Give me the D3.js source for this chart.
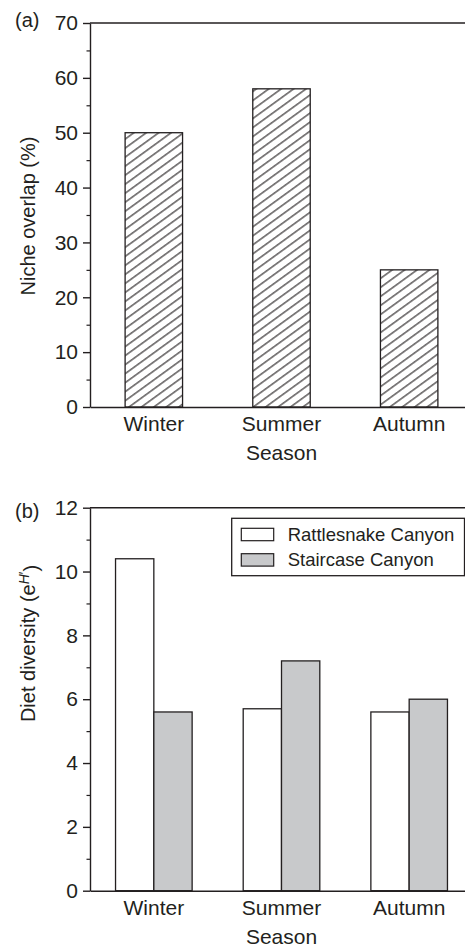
<!DOCTYPE html>
<html>
<head>
<meta charset="utf-8">
<script src="https://cdn.jsdelivr.net/npm/d3@7"></script>
<style>
  html, body { margin: 0; padding: 0; background: #fff; }
  svg { display: block; }
  text { font-family: "Liberation Sans", Arial, Helvetica, sans-serif; fill: #231f20; }
</style>
</head>
<body>
<svg id="chart" width="465" height="947"></svg>
<script>
// ---- Data ----
const seasons = ["Winter", "Summer", "Autumn"];
const nicheOverlap = [50, 58, 25];               // panel (a), %
const seriesNames = ["Rattlesnake Canyon", "Staircase Canyon"];
const rattlesnake = [10.4, 5.7, 5.6];             // panel (b)
const staircase = [5.6, 7.2, 6.0];                // panel (b)
const yTicksA = [0, 10, 20, 30, 40, 50, 60, 70];
const yMinorA = [5, 15, 25, 35, 45, 55, 65];
const yTicksB = [0, 2, 4, 6, 8, 10, 12];
const yMinorB = [1, 3, 5, 7, 9, 11];

// ---- Layout ----
const W = 465;
const axisX = 90;
const ink = "#231f20";
const svg = d3.select("#chart");

const defs = svg.append("defs");
const pat = defs.append("pattern")
  .attr("id", "hatch")
  .attr("patternUnits", "userSpaceOnUse")
  .attr("width", 12).attr("height", 7.3)
  .attr("patternTransform", "rotate(-36)");
pat.append("rect").attr("width", 12).attr("height", 7.3).attr("fill", "#fff");
pat.append("line").attr("x1", 0).attr("x2", 12).attr("y1", 3.6).attr("y2", 3.6)
  .attr("stroke", ink).attr("stroke-width", 1.1);

function drawFrame(g, y, ticks, minor, top, bottom, xScale) {
  // minor ticks
  g.append("g").attr("transform", `translate(${axisX},0)`)
    .call(d3.axisLeft(y).tickValues(minor).tickSize(3.5).tickFormat(""))
    .call(s => s.select(".domain").remove())
    .call(s => s.selectAll("line").attr("stroke", ink).attr("stroke-width", 1.2));
  // major ticks
  g.append("g").attr("transform", `translate(${axisX},0)`)
    .call(d3.axisLeft(y).tickValues(ticks).tickSize(7).tickPadding(5).tickSizeOuter(0))
    .call(s => s.select(".domain").attr("stroke", ink).attr("stroke-width", 1.4))
    .call(s => s.selectAll("line").attr("stroke", ink).attr("stroke-width", 1.4))
    .call(s => s.selectAll("text").style("font-size", "21px").attr("fill", ink));
  // top rule
  g.append("line").attr("x1", axisX).attr("x2", W)
    .attr("y1", top).attr("y2", top).attr("stroke", ink).attr("stroke-width", 1.4);
  // bottom axis
  g.append("g").attr("transform", `translate(0,${bottom})`)
    .call(d3.axisBottom(xScale).tickSize(0).tickPadding(9).tickSizeOuter(0))
    .call(s => s.select(".domain").attr("stroke", ink).attr("stroke-width", 1.4))
    .call(s => s.selectAll("text").style("font-size", "21px").attr("fill", ink));
}

// ---- Panel (a) ----
{
  const top = 23, bottom = 407;
  const g = svg.append("g");
  const x = d3.scaleBand().domain(seasons).range([axisX, 473])
    .paddingInner(0.55).paddingOuter(0.275);
  const y = d3.scaleLinear().domain([0, 70]).range([bottom, top]);

  g.selectAll("rect.bar").data(seasons.map((s, i) => ({ s, v: nicheOverlap[i] })))
    .join("rect").attr("class", "bar")
    .attr("x", d => x(d.s)).attr("width", x.bandwidth())
    .attr("y", d => y(d.v)).attr("height", d => y(0) - y(d.v))
    .attr("fill", "url(#hatch)").attr("stroke", ink).attr("stroke-width", 1.3);

  drawFrame(g, y, yTicksA, yMinorA, top, bottom, x);

  g.append("text").attr("x", 15).attr("y", 27).style("font-size", "20px").text("(a)");
  g.append("text").attr("x", (axisX + 473) / 2).attr("y", bottom + 46).attr("dy", "0.35em")
    .attr("text-anchor", "middle").style("font-size", "21px").text("Season");
  g.append("text").attr("transform", `translate(35,${(top + bottom) / 2 + 1}) rotate(-90)`)
    .attr("text-anchor", "middle").style("font-size", "20px").text("Niche overlap (%)");
}

// ---- Panel (b) ----
{
  const top = 507.7, bottom = 890.7;
  const g = svg.append("g");
  const x = d3.scaleBand().domain(seasons).range([axisX, 473])
    .paddingInner(0.4).paddingOuter(0.2);
  const xs = d3.scaleBand().domain(seriesNames).range([0, x.bandwidth()]);
  const y = d3.scaleLinear().domain([0, 12]).range([bottom, top]);
  const fills = ["#ffffff", "#c8c9cb"];
  const series = [rattlesnake, staircase];

  const data = [];
  seasons.forEach((s, i) => seriesNames.forEach((n, j) => data.push({ s, n, j, v: series[j][i] })));

  g.selectAll("rect.bar").data(data).join("rect").attr("class", "bar")
    .attr("x", d => x(d.s) + xs(d.n)).attr("width", xs.bandwidth())
    .attr("y", d => y(d.v)).attr("height", d => y(0) - y(d.v))
    .attr("fill", d => fills[d.j]).attr("stroke", ink).attr("stroke-width", 1.3);

  drawFrame(g, y, yTicksB, yMinorB, top, bottom, x);

  g.append("text").attr("x", 15).attr("y", 517.5).style("font-size", "20px").text("(b)");
  g.append("text").attr("x", (axisX + 473) / 2).attr("y", bottom + 46).attr("dy", "0.35em")
    .attr("text-anchor", "middle").style("font-size", "21px").text("Season");
  const yl = g.append("text").attr("transform", `translate(35,643.5) rotate(-90)`)
    .attr("text-anchor", "middle").style("font-size", "20px");
  yl.append("tspan").text("Diet diversity (e");
  yl.append("tspan").attr("dy", "-0.45em").style("font-size", "14px").style("font-style", "italic").text("H");
  yl.append("tspan").style("font-size", "14px").text("′");
  yl.append("tspan").attr("dy", "0.45em").text(")");

  // legend
  const lg = g.append("g");
  lg.append("rect").attr("x", 231.7).attr("y", 518.3).attr("width", 232.8).attr("height", 57.4)
    .attr("fill", "#fff").attr("stroke", ink).attr("stroke-width", 1.3);
  seriesNames.forEach((n, j) => {
    const cy = 534.5 + j * 25.4;
    lg.append("rect").attr("x", 241.3).attr("y", cy - 6.2).attr("width", 32.4).attr("height", 12.4)
      .attr("fill", fills[j]).attr("stroke", ink).attr("stroke-width", 1.2);
    lg.append("text").attr("x", 287.7).attr("y", cy).attr("dy", "0.35em")
      .style("font-size", "18.5px").text(n);
  });
}
</script>
</body>
</html>
